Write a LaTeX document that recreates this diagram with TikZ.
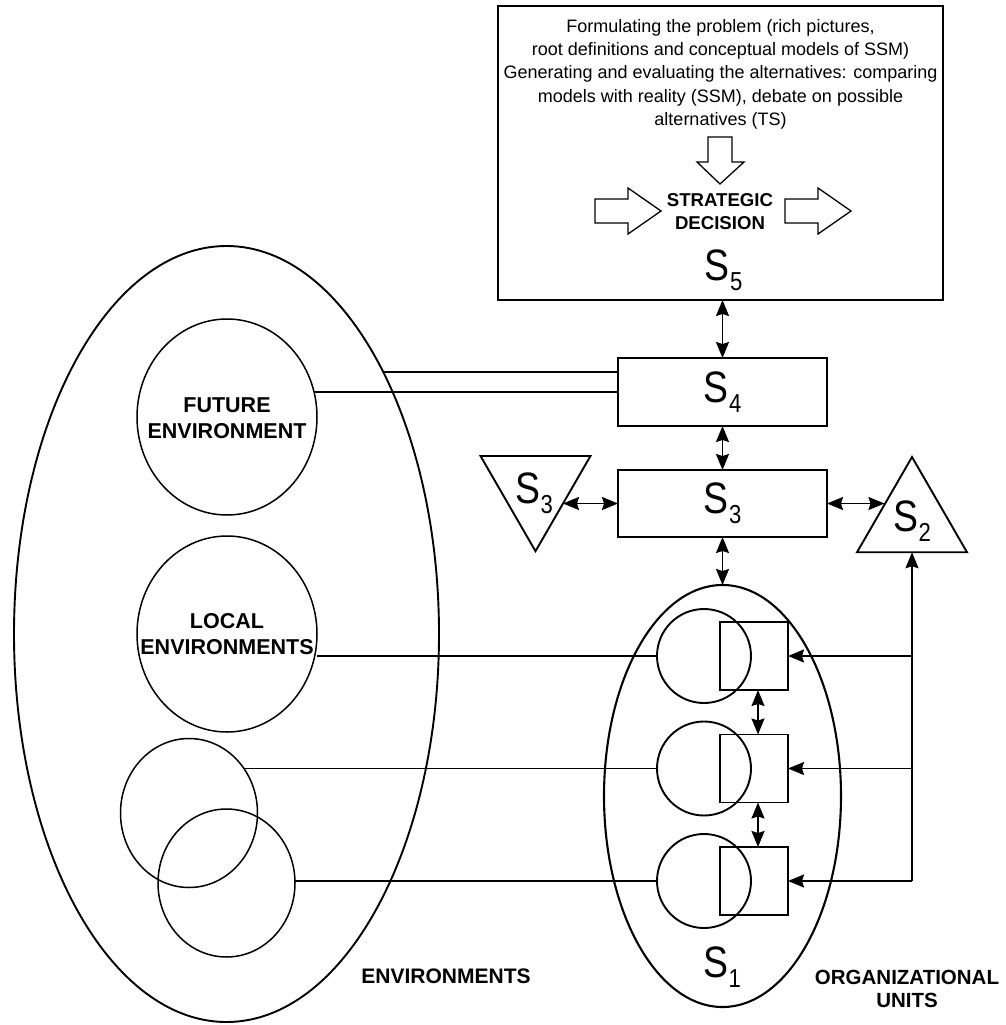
\documentclass[tikz,border=0pt]{standalone}
\usepackage{fontspec}
\setmainfont{Liberation Sans}
\newfontfamily\slabfont{Liberation Sans}[FakeStretch=0.85]
\usetikzlibrary{arrows.meta,shapes.geometric,calc}
\newcommand\Slab[1]{{\fontsize{44}{44}\slabfont S\kern0.5pt\raisebox{-10pt}{\fontsize{26}{26}\selectfont #1}}}
\begin{document}
\begin{tikzpicture}[x=1pt,y=-1pt,
  line/.style={line width=1.4pt},
  boxnode/.style={draw,line width=2.2pt,rectangle,inner sep=0pt,outer sep=0pt},
  oval/.style={draw,ellipse,inner sep=0pt,outer sep=0pt},
  ring/.style={draw,circle,inner sep=0pt,outer sep=0pt,line width=1.9pt,minimum size=94pt},
  sq/.style={draw,rectangle,inner sep=0pt,outer sep=0pt,line width=1.9pt,minimum size=68pt},
  tri/.style={draw,regular polygon,regular polygon sides=3,minimum size=127pt,inner sep=0pt,outer sep=0pt,line width=1.9pt},
  arr/.style={line width=1.7pt,{Stealth[length=16pt,width=13pt,inset=2pt]}-{Stealth[length=16pt,width=13pt,inset=2pt]}},
  sarr/.style={line width=1.6pt,-{Stealth[length=16pt,width=13pt,inset=2pt]}},
  blk/.style={draw,line width=1.3pt,line join=miter},
  lbl/.style={inner sep=0pt,outer sep=0pt},
  para/.style={inner sep=0pt,align=center,font=\fontsize{18}{23.3}\selectfont},
  btxt/.style={inner sep=0pt,align=center,font=\bfseries\fontsize{21.5}{26}\selectfont}
]
\useasboundingbox (0,0) rectangle (1005,1025);

% S5 box and contents
\node[boxnode,minimum width=445pt,minimum height=294pt] (s5) at (720.5,153) {};
\node[para,anchor=north] (ptext) at (720.5,18.9) {Formulating the problem (rich pictures,\\root definitions and conceptual models of SSM)\\Generating and evaluating the alternatives: comparing\\models with reality (SSM), debate on possible\\alternatives (TS)};
\draw[blk] (708,137) -- (732,137) -- (732,162) -- (744,162) -- (720,184) -- (697,162) -- (708,162) -- cycle;
\draw[blk] (595,199) -- (628,199) -- (628,188) -- (661,211) -- (628,234) -- (628,223) -- (595,223) -- cycle;
\draw[blk] (785,199) -- (818,199) -- (818,188) -- (851,211) -- (818,234) -- (818,223) -- (785,223) -- cycle;
\node[inner sep=0pt,align=center,font=\bfseries\fontsize{18.6}{23}\selectfont,anchor=north] (sd) at (720,193.7) {STRATEGIC\\DECISION};
\node[lbl,anchor=base] (s5l) at (723.5,280) {\Slab{5}};

% S4, S3 boxes
\node[boxnode,minimum width=209pt,minimum height=68pt] (s4) at (722.5,392) {\Slab{4}};
\node[boxnode,minimum width=209pt,minimum height=67pt] (s3) at (722.5,503.5) {\Slab{3}};

% triangles
\node[tri,shape border rotate=180] (t3) at (535.5,487.7) {};
\node[lbl] (t3l) at (534,493) {\Slab{3}};
\node[tri] (t2) at (912,520.5) {};
\node[lbl] (t2l) at (912,521) {\Slab{2}};

% S1 organizational units
\node[oval,line width=2.1pt,minimum width=237pt,minimum height=422pt] (s1) at (722.5,796) {};
\node[ring] (c1) at (704,656) {};
\node[ring] (c2) at (704,768.5) {};
\node[ring] (c3) at (704,881) {};
\node[sq] (q1) at (754,656) {};
\node[sq] (q2) at (754,768.5) {};
\node[sq] (q3) at (754,881) {};
\node[lbl,anchor=base] (s1l) at (722,977) {\Slab{1}};

% environments
\node[oval,line width=1.9pt,minimum width=425pt,minimum height=776pt] (env) at (226.5,634) {};
\node[oval,line width=1.5pt,minimum width=180pt,minimum height=196pt] (fut) at (227,417) {};
\node[oval,line width=1.5pt,minimum width=180pt,minimum height=196pt] (loc) at (227,634) {};
\node[oval,line width=1.5pt,minimum width=137pt,minimum height=149pt] (ea) at (189,813) {};
\node[oval,line width=1.5pt,minimum width=137pt,minimum height=148pt] (eb) at (226.5,883) {};
\node[btxt,anchor=north] (futl) at (227,397.6) {FUTURE\\ENVIRONMENT};
\node[btxt,anchor=north] (locl) at (227,613.6) {LOCAL\\ENVIRONMENTS};
\node[lbl,anchor=base,font=\bfseries\fontsize{21}{26}\selectfont] (envl) at (446,983) {ENVIRONMENTS};
\node[inner sep=0pt,align=center,anchor=north,font=\bfseries\fontsize{20.5}{23}\selectfont] (orgl) at (907,970.3) {ORGANIZATIONAL\\UNITS};

% connectors
\draw[arr] (s4.north |- s5.south) -- (s4.north);
\draw[arr] (s4.south) -- (s3.north);
\draw[arr] (s3.south) -- (s1.north);
\draw[arr] (s3.west -| t3.-30) -- (s3.west);
\draw[arr] (s3.east) -- (s3.east -| t2.150);
\draw[sarr] (q3.east -| t2.south) -- (t2.south);
\draw[sarr] (q1.east -| t2.south) -- (q1.east);
\draw[sarr] (q2.east -| t2.south) -- (q2.east);
\draw[sarr] (q3.east -| t2.south) -- (q3.east);
\draw[arr] ([xshift=4pt]q1.south) -- ([xshift=4pt]q2.north);
\draw[arr] ([xshift=4pt]q2.south) -- ([xshift=4pt]q3.north);

\coordinate (envp) at (383.2,372);
\coordinate (futp) at (314,392);
\coordinate (eap) at (244,768.5);
\draw[line] (envp) -- (envp -| s4.west);
\draw[line] (futp) -- (futp -| s4.west);
\draw[line] (c1.west -| loc.east) -- (c1.west);
\draw[line] (c2.west -| eap) -- (c2.west);
\draw[line] (c3.west -| eb.east) -- (c3.west);
\end{tikzpicture}
\end{document}
